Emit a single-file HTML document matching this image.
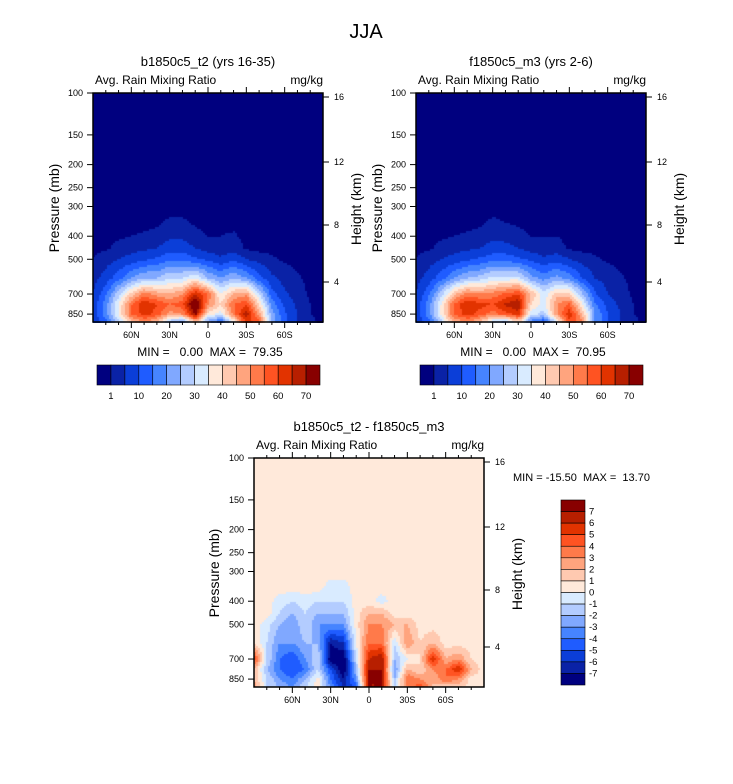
<!DOCTYPE html>
<html><head><meta charset="utf-8"><style>
body{margin:0;background:#fff;width:733px;height:784px;position:relative;overflow:hidden;font-family:"Liberation Sans",sans-serif}
canvas{position:absolute}
svg{position:absolute;left:0;top:0}
text{white-space:pre}
</style></head><body>
<canvas id="c1" width="230" height="230" style="left:93px;top:93px"></canvas>
<canvas id="c2" width="230" height="230" style="left:416px;top:93px"></canvas>
<canvas id="c3" width="230" height="229" style="left:254px;top:458px"></canvas>
<svg id="ov" width="733" height="784"></svg>
<script>
const lats=[90,80,70,60,50,40,30,20,10,0,-10,-20,-30,-40,-50,-60,-70,-80,-90];
const levels=[100,150,200,250,300,350,400,450,500,600,700,775,850,925];
const pTicks=[100,150,200,250,300,400,500,700,850];
const hTicks=[16,12,8,4];
const hTickY=[4,69,132,189];
const latTicks=[60,30,0,-30,-60];
const latLabels=["60N","30N","0","30S","60S"];
const absLevels=[1,5,10,15,20,25,30,35,40,45,50,55,60,65,70];
const absLabels=["1","10","20","30","40","50","60","70"];
const diffLevels=[-7,-6,-5,-4,-3,-2,-1,0,1,2,3,4,5,6,7];
const colors=["#00007f","#0a22a6","#0b3ed8","#1f5cff","#4684ff","#80a8ff","#b3ccff","#d9ebff","#ffe9da","#ffc9b0","#ffa47e","#ff7a4a","#ff5322","#e23300","#b71f00","#880000"];
const z0=new Array(19).fill(0);
const panel1=[z0,z0,z0,z0,z0,
[0,0,0,0,0,0.5,1.5,1.5,0.5,0,0,0,0,0,0,0,0,0,0],
[0,0,0.5,1,1.5,2,4,4,2,1,1,1.5,0,0,0,0,0,0,0],
[0,0.5,2,3,4,5,8,8,5,3,2,3,0.5,0,0,0,0,0,0],
[1,3,5,7,9,11,14,14,11,9,6,9,5,3,1.5,0.5,0,0,0],
[3,7,13,20,25,25,30,30,35,25,20,25,20,12,6,3,1.5,0,0],
[5,14,28,42,52,48,45,50,65,55,35,45,48,30,12,6,2.5,0.5,0],
[6,18,35,55,65,60,55,58,80,50,40,55,60,40,18,9,4,1,0],
[6,18,35,55,62,58,48,50,72,38,32,52,68,48,22,11,5,1,0],
[5,12,28,42,48,42,22,15,40,20,10,32,62,58,22,11,5,2,0]];
const panel2=[z0,z0,z0,z0,z0,
[0,0,0,0,0,0.5,1.5,1,0.5,0,0,0,0,0,0,0,0,0,0],
[0,0,0.5,1,1.5,2,4,3,2,1,1,1,0,0,0,0,0,0,0],
[0,0.5,2,3,4,5,7,7,5,3,2,2.5,0.5,0,0,0,0,0,0],
[1,3,5,7,9,11,13,13,11,9,6,8,5,3,1.5,0.5,0,0,0],
[3,7,13,20,25,27,32,32,32,22,18,22,18,10,5,3,1.5,0,0],
[5,14,28,44,52,50,52,56,60,45,32,42,42,26,11,5,2.5,0.5,0],
[6,18,36,56,65,62,60,66,70,40,32,50,56,36,16,8,4,1,0],
[6,18,36,56,62,58,52,58,62,32,28,48,64,45,20,10,5,1,0],
[5,12,28,44,48,42,26,20,38,15,8,30,58,52,20,10,5,2,0]];
const h0=new Array(19).fill(0.5);
const diff=[h0,h0,h0,h0,h0,
[0.5,0.5,0.5,0.5,0.5,0.5,-0.5,-0.5,0.5,0.5,0.5,0.5,0.5,0.5,0.5,0.5,0.5,0.5,0.5],
[0.5,0.5,-0.5,-1,-0.5,-1,-1,-1,0.5,0.5,-0.5,0.5,0.5,0.5,0.5,0.5,0.5,0.5,0.5],
[0.5,0.5,-1,-2,-1,-2,-2,-2,0.5,2,2,0.5,0.5,0.5,0.5,0.5,0.5,0.5,0.5],
[0.5,-0.5,-2,-3,-1,-3,-3,-3,0.5,3,3,2,2,0.5,0.5,0.5,0.5,0.5,0.5],
[1,-1,-3,-3,-2,-2,-7,-6,0,4,4,-1,3,1,2,0.5,0.5,0.5,0.5],
[5,-1,-4,-5,-3,-1,-8,-8,-1,6,7,-2,0,1,6,2,3,1,0.5],
[2,-2,-4,-5,-4,-1,-5,-8,-2,7,7,-3,2,1,3,4,6,2,0.5],
[2,-1,-3,-4,-2,0.5,-4,-7,-3,7,7,-2,4,3,2,4,3,0.5,0.5],
[3,-1,-2,-3,-1,0.5,-3,-6,-5,7,7,-1,3,5,2,1,1,0.5,0.5]];

const W=230,H=230,PB=2.2263;
function xScale(lat){return (90-lat)/180*W;}
function yScale(p){return Math.log(p/100)/PB*H;}
function sample(grid,lat,p){
  let fi=(90-lat)/10; fi=Math.max(0,Math.min(18,fi));
  const lp=Math.log(p); let fj=0;
  if(p<=levels[0])fj=0; else if(p>=levels[levels.length-1])fj=levels.length-1;
  else{for(let j=0;j<levels.length-1;j++){if(p>=levels[j]&&p<=levels[j+1]){fj=j+(lp-Math.log(levels[j]))/(Math.log(levels[j+1])-Math.log(levels[j]));break;}}}
  const i0=Math.floor(fi),i1=Math.min(18,i0+1),j0=Math.floor(fj),j1=Math.min(levels.length-1,j0+1);
  const a=fi-i0,b=fj-j0;
  return grid[j0][i0]*(1-a)*(1-b)+grid[j0][i1]*a*(1-b)+grid[j1][i0]*(1-a)*b+grid[j1][i1]*a*b;
}
function idx(v,lv){let k=0;for(const t of lv)if(v>=t)k++;return k;}
function draw(id,grid,lv,h){
  const c=document.getElementById(id).getContext('2d');
  for(let y=0;y<h;y+=2)for(let x=0;x<W;x+=2){
    const lat=90-(x+1)/W*180,p=100*Math.exp((y+1)/H*PB);
    c.fillStyle=colors[idx(sample(grid,lat,p),lv)];c.fillRect(x,y,2,2);
  }
}
draw('c1',panel1,absLevels,230);draw('c2',panel2,absLevels,230);draw('c3',diff,diffLevels,229);

const svg=document.getElementById('ov');const NS='http://www.w3.org/2000/svg';
function el(t,a,txt){const e=document.createElementNS(NS,t);for(const k in a)e.setAttribute(k,a[k]);if(txt!==undefined)e.textContent=txt;svg.appendChild(e);return e;}
let e=el('text',{x:366,y:38,'font-size':20,'text-anchor':'middle'},'JJA');


function axes(ox,oy,title,name){
  let t=el('text',{x:ox+115,y:oy-27,'font-size':13,'text-anchor':'middle'},title);
  
  
  t=el('text',{x:ox+2,y:oy-9,'font-size':12},'Avg. Rain Mixing Ratio');
  
  
  t=el('text',{x:ox+230,y:oy-9,'font-size':12,'text-anchor':'end'},'mg/kg');
  
  
  t=el('rect',{x:ox,y:oy,width:230,height:229,fill:'none',stroke:'#000','stroke-width':1.5});
  
  
  pTicks.forEach(p=>{const y=oy+yScale(p);
    el('line',{x1:ox-6,x2:ox,y1:y,y2:y,stroke:'#000'});
    t=el('text',{x:ox-10,y:y+3,'font-size':9,'text-anchor':'end'},String(p));
    
    });
  hTicks.forEach((h,i)=>{const y=oy+hTickY[i];
    el('line',{x1:ox+230,x2:ox+236,y1:y,y2:y,stroke:'#000'});
    t=el('text',{x:ox+241,y:y+3,'font-size':9},String(h));
    
    });
  for(let l=80;l>=-80;l-=10){const x=ox+xScale(l),major=l%30===0;
    el('line',{x1:x,x2:x,y1:oy+229,y2:oy+229+(major?6:3),stroke:'#000'});
    el('line',{x1:x,x2:x,y1:oy,y2:oy-(major?6:3),stroke:'#000'});}
  latTicks.forEach((l,i)=>{t=el('text',{x:ox+xScale(l),y:oy+245,'font-size':9,'text-anchor':'middle'},latLabels[i]);
    
    });
  t=el('text',{x:0,y:0,'font-size':14,'text-anchor':'middle',transform:`translate(${oy>400?ox-35:ox-34},${oy+115}) rotate(-90)`},'Pressure (mb)');
  
  
  t=el('text',{x:0,y:0,'font-size':14,'text-anchor':'middle',transform:`translate(${ox+268},${oy+116}) rotate(-90)`},'Height (km)');
  
  
}
axes(93,93,'b1850c5_t2 (yrs 16-35)','left-panel');
axes(416,93,'f1850c5_m3 (yrs 2-6)','right-panel');
axes(254,458,'b1850c5_t2 - f1850c5_m3','diff-panel');
[[210,'MIN =   0.00  MAX =  79.35'],[533,'MIN =   0.00  MAX =  70.95']].forEach(([x,s])=>{
  const t=el('text',{x:x,y:356,'font-size':12,'text-anchor':'middle'},s);
  
  });
e=el('text',{x:513,y:481,'font-size':11},'MIN = -15.50  MAX =  13.70');


function hbar(x0){const bw=223/16;
  colors.forEach((c,i)=>{const r=el('rect',{x:x0+i*bw,y:365,width:bw,height:20,fill:c,stroke:'#000','stroke-width':0.6});
    
    });
  absLabels.forEach((s,i)=>{const t=el('text',{x:x0+bw*(1+2*i),y:399,'font-size':9.5,'text-anchor':'middle'},s);
    
    });}
hbar(97);hbar(420);
const bh=185/16;
colors.slice().reverse().forEach((c,i)=>{const r=el('rect',{x:561,y:500+i*bh,width:24,height:bh,fill:c,stroke:'#000','stroke-width':0.6});
  
  });
diffLevels.slice().reverse().forEach((v,i)=>{const t=el('text',{x:589,y:500+(i+1)*bh+3,'font-size':9.5},String(v));
  
  });
</script>
</body></html>
